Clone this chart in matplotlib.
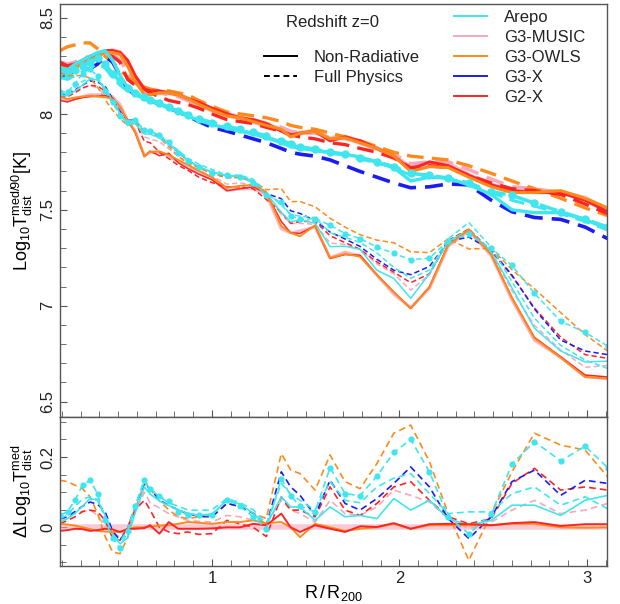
import numpy as np
import matplotlib
matplotlib.use("Agg")
import matplotlib.pyplot as plt
from matplotlib.lines import Line2D
from matplotlib.ticker import MultipleLocator, FuncFormatter

plt.rcParams["font.family"] = ["Liberation Sans", "DejaVu Sans"]
plt.rcParams["mathtext.fontset"] = "custom"
plt.rcParams["mathtext.rm"] = "Liberation Sans"
plt.rcParams["mathtext.it"] = "Liberation Sans"
plt.rcParams["mathtext.default"] = "rm"

# ---------------------------------------------------------------------------
# Data
# ---------------------------------------------------------------------------

r = [0.19, 0.23, 0.27, 0.31, 0.35, 0.39, 0.43, 0.47, 0.51, 0.55, 0.59, 0.64,
     0.67, 0.72, 0.77, 0.82, 0.87, 0.93, 1.00, 1.08, 1.15, 1.22, 1.29, 1.37,
     1.42, 1.47, 1.55, 1.63, 1.71, 1.79, 1.88, 1.97, 2.06, 2.16, 2.26, 2.37,
     2.49, 2.60, 2.72, 2.86, 2.99, 3.11]

# upper bundle: log10 T90
up_nr_arepo = [8.24, 8.23, 8.26, 8.28, 8.30, 8.32, 8.33, 8.28, 8.20, 8.14, 8.10, 8.08,
               8.07, 8.05, 8.03, 8.01, 7.99, 7.965, 7.945, 7.925, 7.91, 7.895, 7.875, 7.85,
               7.83, 7.82, 7.81, 7.80, 7.79, 7.775, 7.75, 7.72, 7.65, 7.67, 7.665, 7.63,
               7.58, 7.50, 7.485, 7.485, 7.45, 7.40]
up_nr_music = [8.25, 8.24, 8.25, 8.27, 8.29, 8.31, 8.32, 8.33, 8.32, 8.27, 8.19, 8.12,
               8.11, 8.11, 8.11, 8.10, 8.08, 8.05, 8.02, 8.00, 7.98, 7.96, 7.94, 7.92,
               7.89, 7.90, 7.91, 7.87, 7.88, 7.85, 7.82, 7.78, 7.72, 7.74, 7.74, 7.68,
               7.63, 7.60, 7.60, 7.59, 7.56, 7.50]
up_nr_owls = [8.24, 8.22, 8.24, 8.26, 8.28, 8.30, 8.32, 8.32, 8.31, 8.25, 8.17, 8.10,
              8.10, 8.11, 8.11, 8.10, 8.08, 8.05, 8.02, 7.99, 7.98, 7.96, 7.94, 7.92,
              7.88, 7.90, 7.91, 7.87, 7.875, 7.85, 7.82, 7.78, 7.70, 7.725, 7.72, 7.67,
              7.62, 7.59, 7.59, 7.60, 7.56, 7.51]
up_nr_g2x = [8.27, 8.25, 8.26, 8.28, 8.30, 8.31, 8.33, 8.33, 8.32, 8.28, 8.20, 8.13,
             8.12, 8.12, 8.11, 8.10, 8.08, 8.06, 8.03, 8.00, 7.98, 7.97, 7.95, 7.91,
             7.89, 7.90, 7.91, 7.86, 7.88, 7.86, 7.82, 7.78, 7.71, 7.75, 7.73, 7.68,
             7.63, 7.60, 7.59, 7.59, 7.55, 7.49]

up_fp_arepo = [8.22, 8.21, 8.23, 8.25, 8.27, 8.29, 8.26, 8.21, 8.17, 8.135, 8.11, 8.09,
               8.075, 8.055, 8.035, 8.015, 7.995, 7.975, 7.955, 7.935, 7.92, 7.905, 7.885, 7.86,
               7.845, 7.83, 7.815, 7.80, 7.79, 7.77, 7.75, 7.725, 7.69, 7.68, 7.665, 7.64,
               7.595, 7.575, 7.535, 7.49, 7.45, 7.41]
up_fp_arepo_b = [8.19, 8.18, 8.20, 8.22, 8.24, 8.26, 8.24, 8.19, 8.15, 8.12, 8.10, 8.085,
                 8.07, 8.05, 8.03, 8.01, 7.99, 7.97, 7.95, 7.93, 7.915, 7.90, 7.88, 7.855,
                 7.84, 7.825, 7.81, 7.795, 7.785, 7.765, 7.745, 7.72, 7.68, 7.675, 7.66, 7.635,
                 7.59, 7.55, 7.52, 7.48, 7.44, 7.395]
up_fp_music = [8.27, 8.26, 8.27, 8.29, 8.30, 8.31, 8.32, 8.31, 8.28, 8.22, 8.16, 8.13,
               8.12, 8.11, 8.10, 8.09, 8.07, 8.05, 8.02, 7.99, 7.98, 7.97, 7.95, 7.93,
               7.91, 7.90, 7.90, 7.88, 7.87, 7.85, 7.82, 7.79, 7.74, 7.75, 7.75, 7.71,
               7.66, 7.62, 7.61, 7.59, 7.55, 7.50]
up_fp_owls = [8.33, 8.35, 8.36, 8.37, 8.37, 8.34, 8.30, 8.27, 8.23, 8.19, 8.16, 8.14,
              8.13, 8.12, 8.12, 8.11, 8.10, 8.07, 8.04, 8.01, 8.00, 7.99, 7.98, 7.96,
              7.94, 7.93, 7.92, 7.90, 7.88, 7.86, 7.83, 7.80, 7.78, 7.77, 7.76, 7.73,
              7.69, 7.65, 7.61, 7.56, 7.51, 7.47]
up_fp_g3x = [8.20, 8.21, 8.22, 8.23, 8.235, 8.26, 8.30, 8.27, 8.20, 8.13, 8.10, 8.08,
             8.07, 8.05, 8.03, 8.01, 7.99, 7.96, 7.93, 7.91, 7.89, 7.87, 7.85, 7.82,
             7.80, 7.79, 7.78, 7.76, 7.73, 7.70, 7.67, 7.64, 7.615, 7.62, 7.635, 7.63,
             7.55, 7.49, 7.46, 7.45, 7.41, 7.35]
up_fp_g2x = [8.26, 8.25, 8.26, 8.28, 8.29, 8.30, 8.31, 8.30, 8.27, 8.18, 8.15, 8.13,
             8.11, 8.09, 8.07, 8.06, 8.05, 8.03, 8.00, 7.97, 7.96, 7.95, 7.93, 7.91,
             7.89, 7.88, 7.87, 7.85, 7.84, 7.82, 7.80, 7.77, 7.72, 7.73, 7.72, 7.68,
             7.64, 7.61, 7.60, 7.58, 7.53, 7.48]

# lower bundle reference: log10 Tmed of G3-MUSIC non-radiative
lo_ref = [8.08, 8.07, 8.08, 8.09, 8.10, 8.10, 8.10, 8.09, 8.05, 7.97, 7.91, 7.78,
          7.80, 7.80, 7.78, 7.75, 7.72, 7.69, 7.66, 7.60, 7.61, 7.61, 7.58, 7.40,
          7.38, 7.39, 7.41, 7.25, 7.28, 7.26, 7.16, 7.06, 6.99, 7.09, 7.31, 7.39,
          7.26, 7.03, 6.82, 6.73, 6.63, 6.62]

# Delta log10 Tmed relative to lo_ref (bottom panel)
d_nr_arepo = [0.015, 0.025, 0.04, 0.06, 0.082, 0.077, 0.035, -0.02, -0.047, -0.03, 0.04, 0.115,
              0.095, 0.075, 0.062, 0.05, 0.04, 0.035, 0.038, 0.077, 0.066, 0.04, 0.006, 0.087,
              0.058, 0.058, 0.02, 0.058, 0.03, 0.034, 0.025, 0.082, 0.049, 0.077, 0.025, 0.006,
              0.02, 0.063, 0.063, 0.034, 0.077, 0.091]
d_nr_music = [0.0] * 42
d_nr_owls = [0.01, 0.008, 0.005, 0.0, -0.005, -0.01, -0.012, -0.013, -0.013, -0.006, 0.0, 0.0,
             0.002, 0.005, 0.006, 0.01, 0.015, 0.013, 0.01, 0.015, 0.015, 0.02, 0.012, 0.015,
             0.0, -0.028, 0.01, 0.0, -0.01, -0.004, 0.0, 0.01, -0.004, 0.006, 0.006, 0.006,
             0.006, 0.01, 0.01, 0.0, -0.001, 0.0]
d_nr_g2x = [-0.01, -0.008, -0.004, -0.005, -0.01, -0.008, -0.004, -0.006, -0.013, -0.005, -0.004, -0.002,
            0.006, -0.018, 0.015, -0.004, -0.004, -0.004, -0.003, 0.0, 0.0, 0.01, 0.006, 0.039,
            0.0, -0.013, 0.006, -0.004, -0.013, 0.003, 0.001, 0.012, -0.004, 0.009, 0.01, 0.009,
            0.006, 0.012, 0.015, 0.004, 0.009, 0.009]

d_fp_arepo = [0.034, 0.045, 0.077, 0.12, 0.134, 0.096, 0.02, -0.03, -0.06, -0.01, 0.06, 0.136,
              0.11, 0.088, 0.075, 0.045, 0.036, 0.034, 0.034, 0.079, 0.06, 0.03, -0.004, 0.139,
              0.09, 0.06, 0.044, 0.17, 0.096, 0.09, 0.146, 0.213, 0.25, 0.158, 0.03, -0.018,
              0.039, 0.18, 0.244, 0.189, 0.231, 0.17]
d_fp_arepo_b = [0.025, 0.035, 0.06, 0.08, 0.087, 0.08, 0.03, -0.02, -0.042, -0.005, 0.06, 0.13,
                0.11, 0.087, 0.07, 0.06, 0.05, 0.048, 0.05, 0.082, 0.07, 0.05, 0.01, 0.125,
                0.095, 0.077, 0.049, 0.13, 0.077, 0.07, 0.115, 0.14, 0.153, 0.096, 0.039, 0.044,
                0.044, 0.096, 0.115, 0.063, 0.087, 0.053]
d_fp_music = [0.02, 0.03, 0.039, 0.045, 0.049, 0.035, 0.0, -0.015, -0.028, 0.0, 0.045, 0.1,
              0.07, 0.055, 0.039, 0.03, 0.02, 0.017, 0.015, 0.034, 0.03, 0.02, 0.01, 0.077,
              0.049, 0.039, 0.015, 0.077, 0.039, 0.034, 0.058, 0.106, 0.091, 0.072, 0.025, -0.004,
              0.015, 0.049, 0.077, 0.039, 0.049, 0.068]
d_fp_owls = [0.134, 0.13, 0.12, 0.11, 0.087, 0.04, -0.025, -0.07, -0.075, -0.03, 0.05, 0.125,
             0.11, 0.075, 0.05, 0.03, 0.025, 0.03, 0.03, 0.068, 0.058, 0.04, 0.025, 0.21,
             0.163, 0.153, 0.106, 0.206, 0.13, 0.11, 0.182, 0.268, 0.291, 0.187, 0.039, -0.094,
             0.039, 0.158, 0.268, 0.234, 0.22, 0.144]
d_fp_g3x = [0.025, 0.03, 0.045, 0.06, 0.072, 0.066, 0.045, -0.01, -0.037, -0.005, 0.06, 0.125,
            0.11, 0.078, 0.062, 0.05, 0.039, 0.032, 0.03, 0.068, 0.06, 0.04, 0.005, 0.158,
            0.115, 0.091, 0.034, 0.134, 0.068, 0.049, 0.082, 0.125, 0.172, 0.115, 0.025, -0.032,
            0.03, 0.13, 0.163, 0.091, 0.134, 0.125]
d_fp_g2x = [0.01, 0.02, 0.03, 0.045, 0.049, 0.045, 0.02, -0.03, -0.037, 0.0, 0.05, 0.077,
            0.05, 0.0, -0.013, -0.018, -0.013, -0.02, -0.018, 0.02, 0.01, 0.0, -0.026, 0.087,
            0.049, 0.049, 0.03, 0.115, 0.049, 0.034, 0.068, 0.115, 0.13, 0.077, 0.03, 0.01,
            0.025, 0.125, 0.168, 0.106, 0.115, 0.106]

codes = ["Arepo", "G3-MUSIC", "G3-OWLS", "G3-X", "G2-X"]
colors = {"Arepo": "#3fe6ee", "G3-MUSIC": "#f6a8bb", "G3-OWLS": "#ff8a1c",
          "G3-X": "#1c1cf0", "G2-X": "#ff2424"}

# ---------------------------------------------------------------------------
# Figure
# ---------------------------------------------------------------------------

fig = plt.figure(figsize=(6.2, 6.04), dpi=100)
ax = fig.add_axes([0.0968, 0.3096, 0.8823, 0.6838])
axd = fig.add_axes([0.0968, 0.0629, 0.8823, 0.2467], sharex=ax)

ref = np.array(lo_ref)
c = colors

# --- upper bundle (T90), thick lines
ax.plot(r, up_nr_music, color=c["G3-MUSIC"], lw=3.5, alpha=0.8)
ax.plot(r, up_fp_music, color=c["G3-MUSIC"], lw=2.6, dashes=(5, 2.5))
ax.plot(r, up_fp_owls, color=c["G3-OWLS"], lw=2.4, dashes=(5, 2.5))
ax.plot(r, up_fp_g2x, color=c["G2-X"], lw=2.4, dashes=(5, 2.5))
ax.plot(r, up_nr_g2x, color=c["G2-X"], lw=2.2)
ax.plot(r, up_nr_owls, color=c["G3-OWLS"], lw=2.2)
ax.plot(r, up_fp_g3x, color=c["G3-X"], lw=2.6, dashes=(5, 2.5))
ax.plot(r, up_fp_arepo_b, color=c["Arepo"], lw=2.2, dashes=(5, 2.5))
ax.plot(r, up_nr_arepo, color=c["Arepo"], lw=2.4)
ax.plot(r, up_fp_arepo, color=c["Arepo"], lw=2.6, dashes=(5, 2.5),
        marker="o", ms=6, mec="none")

# --- lower bundle (Tmed), thin lines, built from reference + deltas
lo_style = dict(lw=1.1)
ax.plot(r, ref + np.array(d_nr_music), color=c["G3-MUSIC"], lw=2.2, alpha=0.8)
ax.plot(r, ref + np.array(d_fp_music), color=c["G3-MUSIC"], dashes=(3.5, 2), **lo_style)
ax.plot(r, ref + np.array(d_fp_g2x), color=c["G2-X"], dashes=(3.5, 2), **lo_style)
ax.plot(r, ref + np.array(d_fp_g3x), color=c["G3-X"], dashes=(3.5, 2), **lo_style)
ax.plot(r, ref + np.array(d_fp_owls), color=c["G3-OWLS"], dashes=(3.5, 2), **lo_style)
ax.plot(r, ref + np.array(d_fp_arepo_b), color=c["Arepo"], dashes=(3.5, 2), **lo_style)
ax.plot(r, ref + np.array(d_nr_g2x), color=c["G2-X"], **lo_style)
ax.plot(r, ref + np.array(d_nr_arepo), color=c["Arepo"], **lo_style)
ax.plot(r, ref + np.array(d_nr_owls), color=c["G3-OWLS"], lw=1.4)
ax.plot(r, ref + np.array(d_fp_arepo), color=c["Arepo"], dashes=(3.5, 2),
        marker="o", ms=4.5, mec="none", **lo_style)

# --- bottom panel: differences
axd.plot(r, d_nr_music, color=c["G3-MUSIC"], lw=4, alpha=0.6)
axd.plot(r, d_fp_music, color=c["G3-MUSIC"], lw=1.2, dashes=(4, 2.5))
axd.plot(r, d_fp_owls, color=c["G3-OWLS"], lw=1.2, dashes=(4, 2.5))
axd.plot(r, d_fp_g2x, color=c["G2-X"], lw=1.2, dashes=(4, 2.5))
axd.plot(r, d_fp_g3x, color=c["G3-X"], lw=1.2, dashes=(4, 2.5))
axd.plot(r, d_fp_arepo_b, color=c["Arepo"], lw=1.2, dashes=(4, 2.5))
axd.plot(r, d_nr_arepo, color=c["Arepo"], lw=1.2)
axd.plot(r, d_nr_owls, color=c["G3-OWLS"], lw=1.4)
axd.plot(r, d_nr_g2x, color=c["G2-X"], lw=1.4)
axd.plot(r, d_fp_arepo, color=c["Arepo"], lw=1.2, dashes=(4, 2.5),
         marker="o", ms=4.5, mec="none")

# --- axes cosmetics
ax.set_xlim(0.19, 3.107)
ax.set_ylim(6.42, 8.573)
axd.set_ylim(-0.11, 0.314)

fmt = FuncFormatter(lambda v, p: "%g" % round(v, 3))
for a in (ax, axd):
    for s in a.spines.values():
        s.set_color("#555555")
        s.set_linewidth(1.0)
    a.xaxis.set_major_locator(MultipleLocator(1))
    a.xaxis.set_minor_locator(MultipleLocator(0.1))
    a.yaxis.set_major_formatter(fmt)
    a.xaxis.set_major_formatter(fmt)
    a.tick_params(which="both", direction="in", top=False, right=False,
                  colors="#555555", labelcolor="#222222", labelsize=12)
    a.tick_params(which="major", length=5)
    a.tick_params(which="minor", length=4)
    a.tick_params(axis="y", labelrotation=90)

ax.yaxis.set_major_locator(MultipleLocator(0.5))
ax.yaxis.set_minor_locator(MultipleLocator(0.1))
axd.yaxis.set_major_locator(MultipleLocator(0.2))
axd.yaxis.set_minor_locator(MultipleLocator(0.05))
ax.tick_params(axis="x", labelbottom=False)
for a in (ax, axd):
    for lbl in a.get_yticklabels():
        lbl.set_va("center")

ax.set_ylabel(r"Log$_{10}$T$^{\rm med/90}_{\rm dist}$[K]", fontsize=13, labelpad=4)
axd.set_ylabel(r"$\Delta$Log$_{10}$T$^{\rm med}_{\rm dist}$", fontsize=13, labelpad=4)
axd.set_xlabel(r"R$\,/\,$R$_{200}$", fontsize=13, labelpad=-2)
fig.align_ylabels([ax, axd])

# --- legends
ax.text(0.499, 0.956, "Redshift z=0", transform=ax.transAxes, ha="center",
        va="center", fontsize=12, color="#222222")
phys = [Line2D([], [], color="black", lw=1.4),
        Line2D([], [], color="black", lw=1.4, dashes=(3, 2))]
leg1 = ax.legend(phys, ["Non-Radiative", "Full Physics"], loc="upper left",
                 bbox_to_anchor=(0.372, 0.888), frameon=False, fontsize=12,
                 handlelength=2.0, handletextpad=1.0, labelspacing=0.3,
                 borderpad=0, borderaxespad=0)
for t in leg1.get_texts():
    t.set_color("#222222")
ax.add_artist(leg1)

code_handles = [Line2D([], [], color=c[k], lw=1.4) for k in codes]
leg2 = ax.legend(code_handles, codes, loc="upper left",
                 bbox_to_anchor=(0.72, 0.985), frameon=False, fontsize=12,
                 handlelength=2.0, handletextpad=1.0, labelspacing=0.3,
                 borderpad=0, borderaxespad=0)
for t in leg2.get_texts():
    t.set_color("#222222")

fig.savefig("out.png", dpi=100)
